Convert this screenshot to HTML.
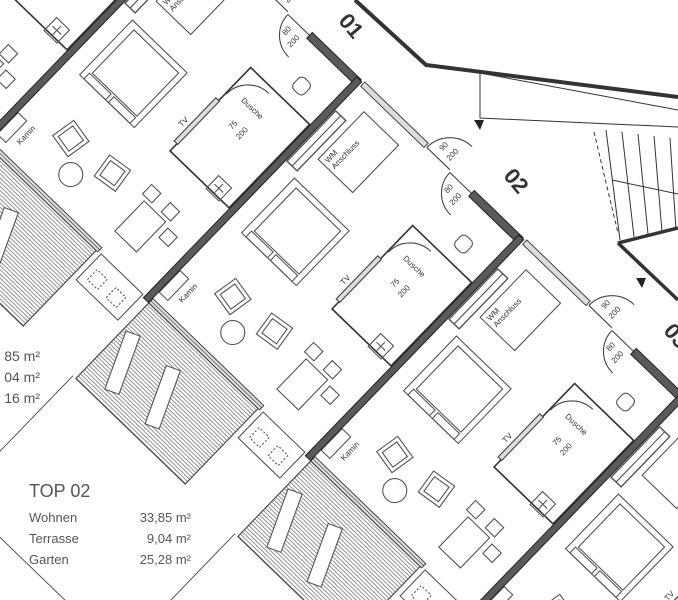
<!DOCTYPE html>
<html><head><meta charset="utf-8"><style>
html,body{margin:0;padding:0;background:#fff;width:678px;height:600px;overflow:hidden;}
svg{display:block;}
text{font-family:"Liberation Sans",sans-serif;}
</style></head><body>
<svg width="678" height="600" viewBox="0 0 678 600" xmlns="http://www.w3.org/2000/svg">
<defs>
<pattern id="hatch" width="3" height="3" patternUnits="userSpaceOnUse">
<rect width="3" height="3" fill="#fff"/><line x1="0.5" y1="0" x2="0.5" y2="3" stroke="#777" stroke-width="0.8"/>
</pattern>
<g id="u" fill="none" stroke="#555" stroke-width="1.1">
<line x1="-420" y1="0" x2="-108" y2="0" stroke="#444" stroke-width="0.9"/>
<line x1="-275" y1="0" x2="-275" y2="225" stroke="#444" stroke-width="0.9"/>
<rect x="-108" y="4" width="105" height="152" fill="url(#hatch)" stroke="#444"/>
<rect x="-95" y="19" width="62" height="15" fill="#fff" transform="rotate(-24 -64 27)"/>
<rect x="-92" y="72" width="62" height="15" fill="#fff" transform="rotate(-24 -61 80)"/>
<rect x="-3" y="4" width="6" height="154" fill="#ddd" stroke="#333" stroke-width="0.9"/>
<line x1="0" y1="4" x2="0" y2="158" stroke="#333" stroke-width="0.6"/>
<rect x="-38" y="162" width="36" height="58"/>
<rect x="-30" y="170" width="14" height="14" stroke-dasharray="2 2"/>
<rect x="-30" y="196" width="14" height="14" stroke-dasharray="2 2"/>
<rect x="12" y="4" width="30" height="12"/>
<g transform="rotate(10 60 60)"><rect x="47" y="47" width="26" height="26"/><rect x="51" y="51" width="18" height="18"/></g>
<g transform="rotate(-8 64 114)"><rect x="51" y="101" width="26" height="26"/><rect x="55" y="105" width="18" height="18"/></g>
<circle cx="34" cy="85" r="12"/>
<rect x="24" y="156" width="42" height="30"/>
<rect x="70" y="150" width="13" height="13"/>
<rect x="70" y="176" width="13" height="13"/>
<rect x="50" y="192" width="13" height="13"/>
<rect x="112" y="22" width="76" height="76"/>
<rect x="122" y="30" width="60" height="62"/>
<rect x="112" y="28" width="8" height="30"/>
<rect x="112" y="62" width="8" height="30"/>
<rect x="195" y="5" width="70" height="14" stroke-width="1.4"/>
<line x1="195" y1="12" x2="265" y2="12"/>
<rect x="218" y="26" width="66" height="48"/>
<rect x="120" y="140" width="116" height="82" stroke="#333" stroke-width="1.6"/>
<rect x="130" y="136" width="60" height="5" fill="#ddd" stroke="#444"/>
<path d="M200 141 A30 30 0 0 1 230 171" stroke="#444"/>
<rect x="118" y="192" width="18" height="18"/>
<line x1="127" y1="195" x2="127" y2="207"/><line x1="121" y1="201" x2="133" y2="201"/>
<rect x="250" y="182" width="16" height="15" rx="5"/>
<rect x="300" y="6" width="6" height="88" fill="#ddd" stroke="#333" stroke-width="0.9"/>
<path d="M302 96 L302 128 M302 96 A32 32 0 0 1 334 128" stroke="#444"/>
<path d="M300 130 A30 30 0 0 0 270 160 M300 130 L300 160" stroke="#444"/>
<rect x="296" y="160" width="8" height="68" fill="#5a5a5a" stroke="#222" stroke-width="1"/>
<rect x="-3" y="-3.5" width="307" height="7" fill="#5a5a5a" stroke="#222" stroke-width="1"/>
</g>
</defs>

<g fill="none" stroke="#333">
<polyline points="355,0 426,65 678,97" stroke-width="4"/>
<polyline points="480,73 480,118 678,127" stroke-width="1"/>
<line x1="480" y1="73" x2="678" y2="110" stroke-width="1"/>
<line x1="594" y1="132" x2="618" y2="233" stroke-dasharray="4 3" stroke-width="1"/>
<g stroke-width="1">
<line x1="606" y1="130" x2="620" y2="240"/><line x1="622" y1="132" x2="634" y2="237"/>
<line x1="638" y1="134" x2="648" y2="234"/><line x1="654" y1="136" x2="662" y2="232"/>
<line x1="670" y1="138" x2="676" y2="230"/>
<line x1="612" y1="180" x2="678" y2="194"/>
</g>
<polyline points="618,243 678,228" stroke-width="3.5"/>
<polyline points="618,243 678,300" stroke-width="3.5"/>
</g>

<use href="#u" transform="translate(-176,-18) rotate(-46)"/>
<use href="#u" transform="translate(-14,140) rotate(-46)"/>
<use href="#u" transform="translate(148,298) rotate(-46)"/>
<use href="#u" transform="translate(310,456) rotate(-46)"/>
<use href="#u" transform="translate(472,614) rotate(-46)"/>

<g font-size="8" fill="#333">
<g transform="translate(-14,140) rotate(-46)">
<text x="20" y="28">Kamin</text><text x="145" y="132">TV</text>
<text x="205" y="156" transform="rotate(90 205 156)">Dusche</text>
<text x="178" y="170">75</text><text x="176" y="182">200</text>
<text x="222" y="36">WM</text><text x="222" y="45">Anschluss</text>
<text x="310" y="110">90</text><text x="308" y="122">200</text>
<text x="283" y="143">80</text><text x="278" y="155">200</text>
</g>
<g transform="translate(148,298) rotate(-46)">
<text x="20" y="28">Kamin</text><text x="145" y="132">TV</text>
<text x="205" y="156" transform="rotate(90 205 156)">Dusche</text>
<text x="178" y="170">75</text><text x="176" y="182">200</text>
<text x="222" y="36">WM</text><text x="222" y="45">Anschluss</text>
<text x="310" y="110">90</text><text x="308" y="122">200</text>
<text x="283" y="143">80</text><text x="278" y="155">200</text>
</g>
<g transform="translate(310,456) rotate(-46)">
<text x="20" y="28">Kamin</text><text x="145" y="132">TV</text>
<text x="205" y="156" transform="rotate(90 205 156)">Dusche</text>
<text x="178" y="170">75</text><text x="176" y="182">200</text>
<text x="222" y="36">WM</text><text x="222" y="45">Anschluss</text>
<text x="310" y="110">90</text><text x="308" y="122">200</text>
<text x="283" y="143">80</text><text x="278" y="155">200</text>
</g>
<g transform="translate(472,614) rotate(-46)">
<text x="20" y="28">Kamin</text><text x="145" y="132">TV</text>
<text x="205" y="156" transform="rotate(90 205 156)">Dusche</text>
<text x="178" y="170">75</text><text x="176" y="182">200</text>
</g>
</g>

<polygon points="474,120 484,120 480,130" fill="#222"/>
<polygon points="636,278 646,278 642,288" fill="#222"/>

<g font-size="22" font-weight="bold" fill="#333">
<text x="328" y="28" transform="rotate(50 340 35)">01</text>
<text x="493" y="183" transform="rotate(50 505 190)">02</text>
<text x="653" y="338" transform="rotate(50 665 345)">03</text>
</g>

<g fill="#555">
<text x="40" y="361" font-size="14" text-anchor="end">85 m²</text>
<text x="40" y="382" font-size="14" text-anchor="end">04 m²</text>
<text x="40" y="403" font-size="14" text-anchor="end">16 m²</text>
<text x="29" y="497" font-size="18">TOP 02</text>
<text x="29" y="522" font-size="13">Wohnen</text>
<text x="29" y="543" font-size="13">Terrasse</text>
<text x="29" y="564" font-size="13">Garten</text>
<text x="191" y="522" font-size="13" text-anchor="end">33,85 m²</text>
<text x="191" y="543" font-size="13" text-anchor="end">9,04 m²</text>
<text x="191" y="564" font-size="13" text-anchor="end">25,28 m²</text>
</g>
</svg>
</body></html>
